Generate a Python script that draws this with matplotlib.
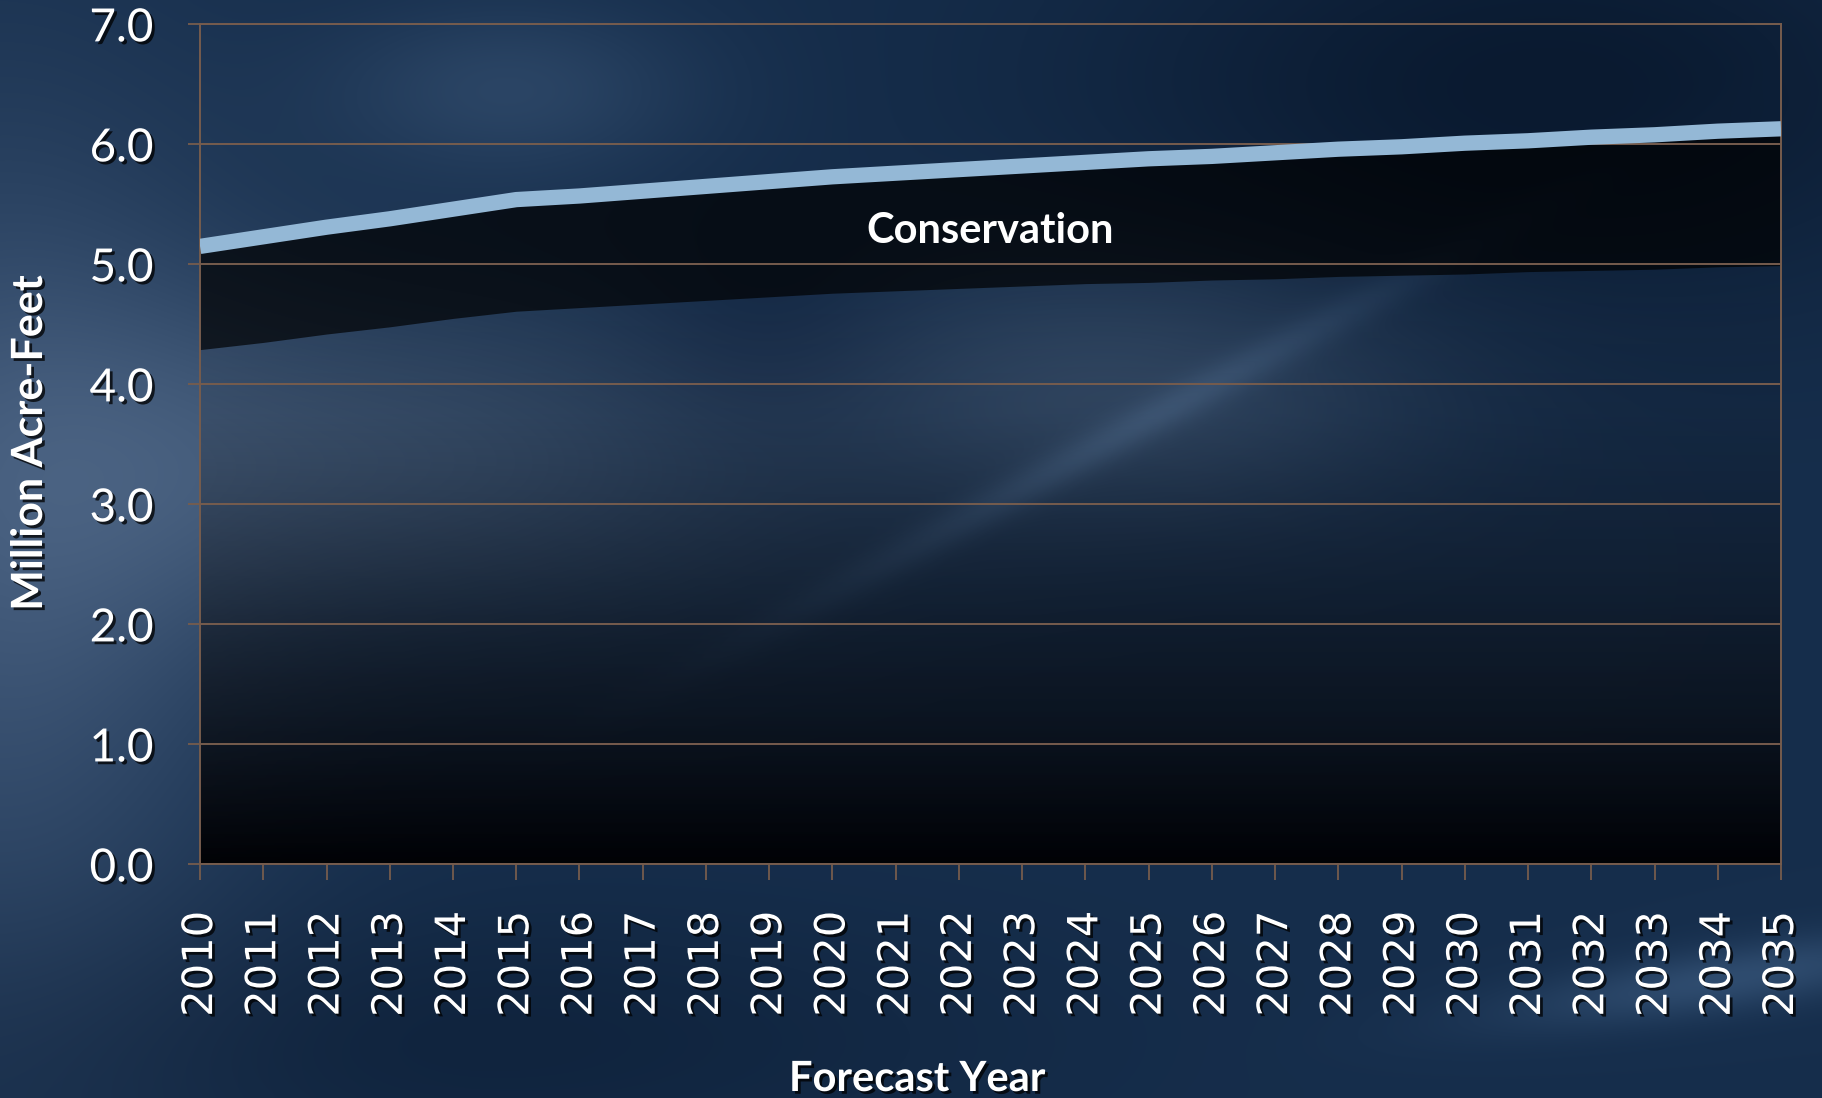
import numpy as np
import matplotlib
matplotlib.use("Agg")
import matplotlib.pyplot as plt
import matplotlib.patheffects as pe
from matplotlib.colors import LinearSegmentedColormap

# Data (million acre-feet)
years = list(range(2010, 2036))
demand_total = [5.15, 5.23, 5.31, 5.38, 5.46, 5.54, 5.57, 5.61, 5.65, 5.69,
                5.73, 5.76, 5.79, 5.82, 5.85, 5.88, 5.90, 5.93, 5.96, 5.98,
                6.01, 6.03, 6.06, 6.08, 6.11, 6.13]
demand_after_conservation = [4.29, 4.35, 4.42, 4.48, 4.55, 4.61, 4.64, 4.67, 4.70, 4.73,
                             4.76, 4.78, 4.80, 4.82, 4.84, 4.85, 4.87, 4.88, 4.90, 4.91,
                             4.92, 4.94, 4.95, 4.96, 4.98, 4.99]
y_ticks = [0.0, 1.0, 2.0, 3.0, 4.0, 5.0, 6.0, 7.0]

GRID = "#765c4d"
LINE = "#94b8d6"
shadow = [pe.withSimplePatchShadow(offset=(2, -2), shadow_rgbFace="black", alpha=0.75)]

fig = plt.figure(figsize=(18.22, 10.98), dpi=100)

# --- textured slide background ---
H, W = 330, 550
yy, xx = np.mgrid[0:1:H * 1j, 0:1:W * 1j]
img = np.ones((H, W, 3)) * np.array([22, 46, 76]) / 255.0

def blob(cx, cy, sx, sy, rgb):
    g = np.exp(-(((xx - cx) / sx) ** 2 + ((yy - cy) / sy) ** 2))
    return g[..., None] * np.array(rgb) / 255.0

img += blob(0.0, 0.5, 0.14, 0.4, [38, 38, 40])
img += blob(0.22, 0.42, 0.22, 0.16, [36, 36, 36])
img += blob(0.62, 0.36, 0.16, 0.12, [30, 30, 30])
img += blob(0.28, 0.08, 0.10, 0.08, [20, 22, 24])
img -= blob(0.85, 0.08, 0.25, 0.2, [12, 20, 28])
img -= blob(0.42, 0.3, 0.08, 0.1, [8, 10, 10])
img -= blob(0.25, 0.95, 0.3, 0.12, [6, 10, 14])
# thin diagonal light streaks
d1 = yy - (0.95 - 0.9 * xx)
img += (np.exp(-(d1 / 0.02) ** 2) * np.exp(-((xx - 0.6) / 0.18) ** 2))[..., None] * np.array([18, 22, 26]) / 255.0
d2 = yy - (0.98 - 0.25 * (xx - 0.6))
img += (np.exp(-(d2 / 0.03) ** 2) * np.exp(-((xx - 0.95) / 0.12) ** 2))[..., None] * np.array([25, 30, 35]) / 255.0
img = np.clip(img, 0, 1)

bg = fig.add_axes([0, 0, 1, 1], zorder=-5)
bg.imshow(img, aspect="auto", extent=[0, 1, 0, 1], interpolation="bicubic")
bg.axis("off")

# --- chart ---
ax = fig.add_axes([0.1098, 0.2127, 0.8677, 0.7651])
ax.set_facecolor("none")

# lower area, fading to black towards zero
lower_poly = ax.fill_between(years, 0, demand_after_conservation, color="none", lw=0)
grad = np.linspace(0, 1, 256).reshape(-1, 1)
cmap = LinearSegmentedColormap.from_list(
    "fade", [(0.0, (0.0, 0.0, 0.01, 0.96)),
             (0.25, (0.03, 0.04, 0.06, 0.7)),
             (0.5, (0.04, 0.05, 0.07, 0.4)),
             (0.75, (0.04, 0.05, 0.07, 0.15)),
             (1.0, (0.04, 0.05, 0.07, 0.05))])
im = ax.imshow(grad, cmap=cmap, aspect="auto", origin="lower",
               extent=[years[0], years[-1], 0, max(demand_after_conservation)], zorder=1)
im.set_clip_path(lower_poly.get_paths()[0], transform=ax.transData)

# conservation band
ax.fill_between(years, demand_after_conservation, demand_total,
                color="#000000", alpha=0.7, lw=0, zorder=2)
ax.plot(years, demand_total, color=LINE, lw=11, solid_capstyle="butt", zorder=4)

ax.text(2022.5, 5.28, "Conservation", family="Lato", weight="bold", fontsize=30,
        color="white", ha="center", va="center", zorder=5)

ax.set_xlim(years[0], years[-1])
ax.set_ylim(0, 7)
ax.set_xticks(years)
ax.set_xticklabels([str(y) for y in years], rotation=90, family="DejaVu Sans",
                   fontsize=30, color="white", path_effects=shadow)
ax.set_yticks(y_ticks)
ax.set_yticklabels([f"{v:.1f}" for v in y_ticks], family="Lato", fontsize=33,
                   color="white", path_effects=shadow)
ax.tick_params(axis="x", length=11.5, width=1.3, color=GRID, pad=22)
ax.tick_params(axis="y", length=8.5, width=1.3, color=GRID, pad=25)
ax.grid(axis="y", color=GRID, lw=1.4, zorder=3)
ax.set_axisbelow(False)
for sp in ax.spines.values():
    sp.set_color(GRID)
    sp.set_linewidth(1.4)

fig.text(29 / 1822, 1 - 443 / 1098, "Million Acre-Feet", rotation=90, family="Lato",
         weight="bold", fontsize=31, color="white", ha="center", va="center",
         path_effects=shadow)
fig.text(917 / 1822, 1 - 1079 / 1098, "Forecast Year", family="Lato",
         weight="bold", fontsize=30, color="white", ha="center", va="center",
         path_effects=shadow)

fig.savefig("out.png", dpi=100)
